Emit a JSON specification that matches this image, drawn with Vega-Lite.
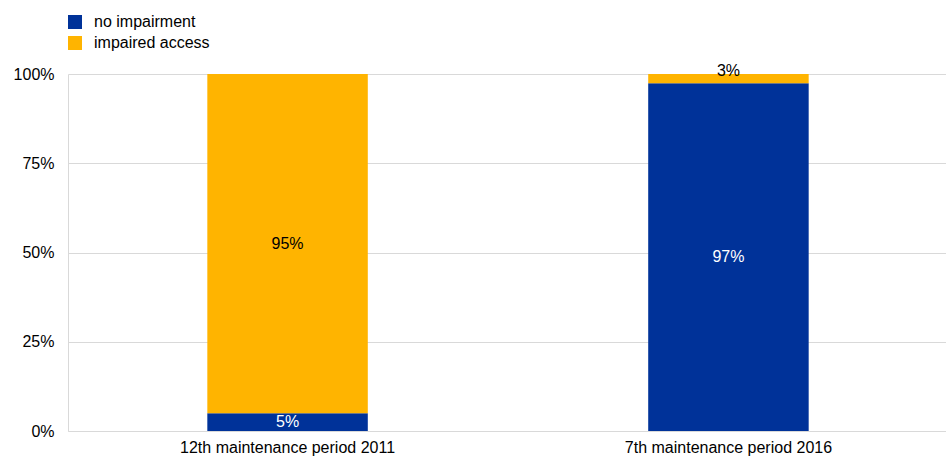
{
  "$schema": "https://vega.github.io/schema/vega-lite/v6.json",
  "width": 880,
  "height": 357,
  "autosize": {"type": "none"},
  "padding": {"left": 68, "top": 74, "right": 0, "bottom": 26},
  "background": "white",
  "config": {
    "font": "Liberation Sans",
    "view": {"stroke": null},
    "axis": {"labelFont": "Liberation Sans", "labelFontSize": 16, "labelColor": "#000000"}
  },
  "data": {
    "values": [
      {"period": "12th maintenance period 2011", "series": "no impairment", "value": 5},
      {"period": "12th maintenance period 2011", "series": "impaired access", "value": 95},
      {"period": "7th maintenance period 2016", "series": "no impairment", "value": 97.4},
      {"period": "7th maintenance period 2016", "series": "impaired access", "value": 2.6}
    ]
  },
  "transform": [
    {"stack": "value", "groupby": ["period"], "sort": [{"field": "series", "order": "descending"}], "as": ["y0", "y1"]},
    {"calculate": "(datum.y0 + datum.y1) / 2", "as": "ymid"},
    {"calculate": "format(datum.value, '.0f') + '%'", "as": "lbl"}
  ],
  "encoding": {
    "x": {
      "field": "period",
      "type": "nominal",
      "sort": null,
      "scale": {"paddingInner": 0.636, "paddingOuter": 0.316},
      "axis": {"title": null, "labelAngle": 0, "labelLimit": 0, "ticks": false, "domain": true, "domainColor": "#d9d9d9", "labelPadding": 8, "grid": false}
    }
  },
  "layer": [
    {
      "mark": {"type": "bar"},
      "encoding": {
        "y": {
          "field": "y1",
          "type": "quantitative",
          "scale": {"domain": [0, 100], "nice": false},
          "axis": {"title": null, "values": [0, 25, 50, 75, 100], "labelExpr": "datum.value + '%'", "ticks": false, "domain": true, "domainColor": "#d9d9d9", "gridColor": "#d9d9d9", "labelPadding": 14}
        },
        "y2": {"field": "y0"},
        "color": {
          "field": "series",
          "type": "nominal",
          "scale": {"domain": ["no impairment", "impaired access"], "range": ["#003299", "#FFB400"]},
          "legend": {
            "title": null,
            "orient": "none",
            "legendX": -1,
            "legendY": -60,
            "symbolType": "square",
            "symbolSize": 196,
            "symbolStrokeWidth": 0,
            "symbolOpacity": 1,
            "labelFontSize": 16,
            "labelFont": "Liberation Sans",
            "labelColor": "#000000",
            "labelOffset": 11,
            "rowPadding": 5
          }
        }
      }
    },
    {
      "transform": [{"filter": "datum.value >= 4"}],
      "mark": {"type": "text", "fontSize": 16, "baseline": "middle"},
      "encoding": {
        "y": {"field": "ymid", "type": "quantitative"},
        "text": {"field": "lbl", "type": "nominal"},
        "color": {"condition": {"test": "datum.series == 'no impairment'", "value": "white"}, "value": "black"}
      }
    },
    {
      "transform": [{"filter": "datum.value < 4"}],
      "mark": {"type": "text", "fontSize": 16, "baseline": "alphabetic", "dy": 2, "color": "black"},
      "encoding": {
        "y": {"field": "y1", "type": "quantitative"},
        "text": {"field": "lbl", "type": "nominal"}
      }
    }
  ]
}
